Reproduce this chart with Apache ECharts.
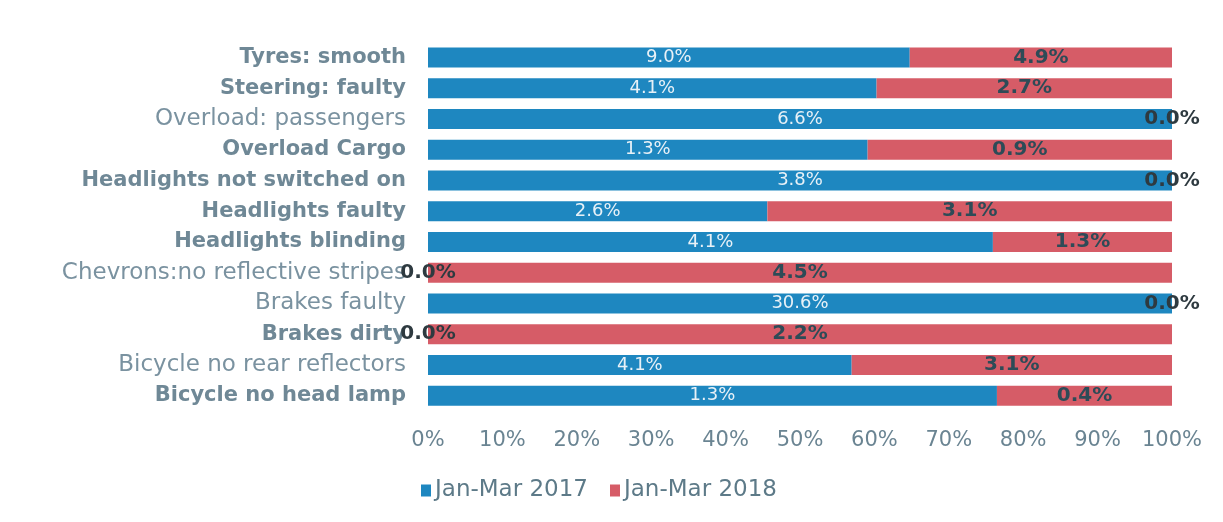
<!DOCTYPE html>
<html>
<head>
<meta charset="utf-8">
<script src="https://cdn.jsdelivr.net/npm/echarts@6/dist/echarts.min.js"></script>
<style>html,body{margin:0;padding:0;background:#fff}#c{width:1223px;height:522px}</style>
</head>
<body>
<div id="c"></div>
<script>
const categories = ["Tyres: smooth","Steering: faulty","Overload: passengers","Overload Cargo","Headlights not switched on","Headlights faulty","Headlights blinding","Chevrons:no reflective stripes","Brakes faulty","Brakes dirty","Bicycle no rear reflectors","Bicycle no head lamp"];
const series2017 = [9.0, 4.1, 6.6, 1.3, 3.8, 2.6, 4.1, 0.0, 30.6, 0.0, 4.1, 1.3];
const series2018 = [4.9, 2.7, 0.0, 0.9, 0.0, 3.1, 1.3, 4.5, 0.0, 2.2, 3.1, 0.4];
const seriesNames = ["Jan-Mar 2017", "Jan-Mar 2018"];
const lightLabels = ["Overload: passengers","Chevrons:no reflective stripes","Brakes faulty","Bicycle no rear reflectors"];

const FONT = "DejaVu Sans";
const cats = categories.slice().reverse();
const a = series2017.slice().reverse();
const b = series2018.slice().reverse();
function share(v, i){ const t = a[i] + b[i]; return t ? v / t * 100 : 0; }
const d2017 = a.map((v,i)=>({value: share(v,i), raw: v,
  label:{color: v === 0 ? '#2e3a40' : '#e8f1f7', fontWeight: v===0?'bold':'normal', fontSize: v===0?20:18}}));
const d2018 = b.map((v,i)=>({value: share(v,i), raw: v,
  label:{color: v === 0 ? '#2e3a40' : '#2d4b57'}}));

const chart = echarts.init(document.getElementById('c'));
chart.setOption({
  animation:false,
  grid:{left:428, right:51, top:42, bottom:111},
  legend:{
    data: seriesNames, bottom: 15, left: 416, itemWidth: 10, itemHeight: 12, itemGap: 22,
    icon: 'rect',
    textStyle:{fontFamily:FONT, fontSize:23, color:'#5d7a88', padding:[0,0,0,-1]}
  },
  xAxis:{
    type:'value', min:0, max:100, interval:10,
    axisLine:{show:false}, axisTick:{show:false}, splitLine:{show:false},
    axisLabel:{fontFamily:FONT, fontSize:21, color:'#6a8492', margin:19, formatter: v => v + '%'}
  },
  yAxis:{
    type:'category', data: cats,
    axisLine:{show:false}, axisTick:{show:false},
    axisLabel:{margin:22,
      formatter: v => (lightLabels.indexOf(v) >= 0 ? '{n|' : '{b|') + v + '}',
      rich:{
        b:{fontFamily:FONT, fontSize:21, fontWeight:'bold', color:'#6f8896'},
        n:{fontFamily:FONT, fontSize:23, color:'#7a92a0'}
      }}
  },
  series:[
    {name:seriesNames[0], type:'bar', stack:'s', barWidth:20, data:d2017,
     itemStyle:{color:'#1e87c0'},
     label:{show:true, position:'inside', fontFamily:FONT, fontSize:18,
       formatter: p => p.data.raw.toFixed(1) + '%'}},
    {name:seriesNames[1], type:'bar', stack:'s', barWidth:20, data:d2018,
     itemStyle:{color:'#d65c67'},
     label:{show:true, position:'inside', fontFamily:FONT, fontSize:20, fontWeight:'bold',
       formatter: p => p.data.raw.toFixed(1) + '%'}}
  ]
});
</script>
</body>
</html>
